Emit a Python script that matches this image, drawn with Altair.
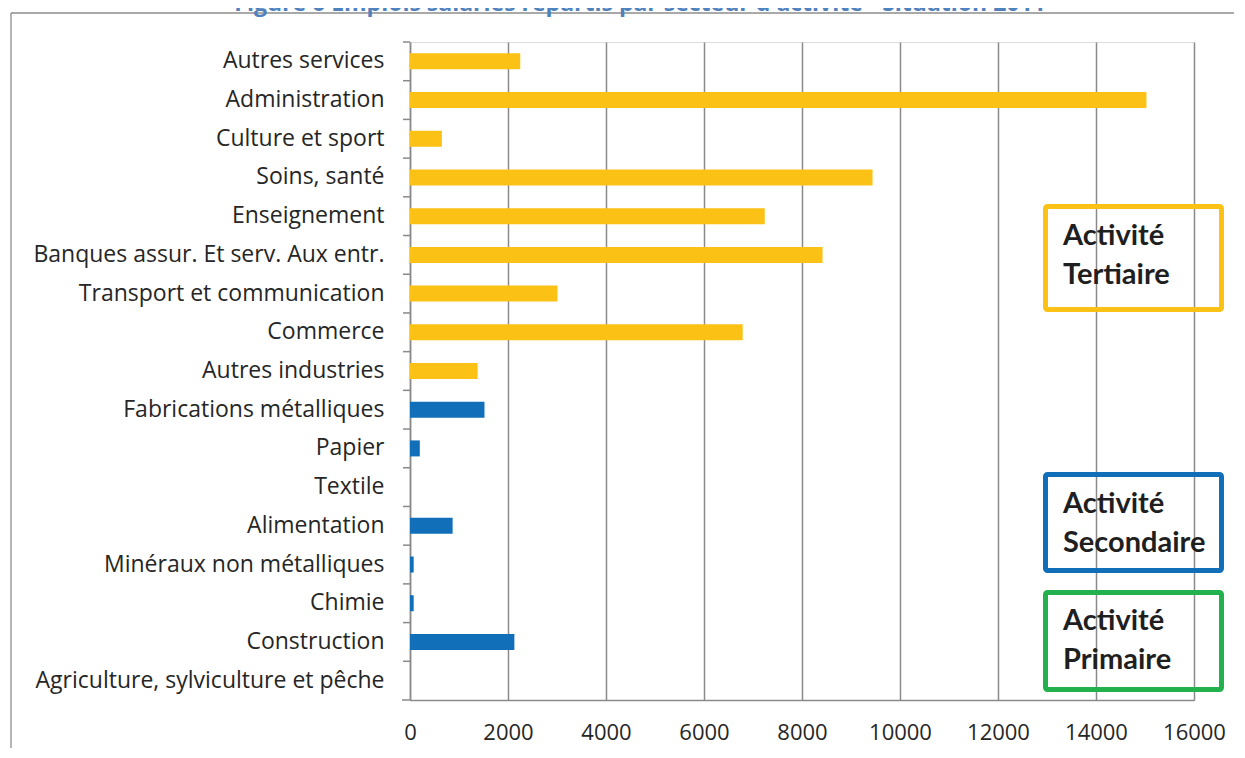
import altair as alt
import pandas as pd

categories = [
    "Autres services", "Administration", "Culture et sport", "Soins, santé",
    "Enseignement", "Banques assur. Et serv. Aux entr.", "Transport et communication",
    "Commerce", "Autres industries", "Fabrications métalliques", "Papier", "Textile",
    "Alimentation", "Minéraux non métalliques", "Chimie", "Construction",
    "Agriculture, sylviculture et pêche",
]
values = [2250, 15030, 650, 9440, 7240, 8420, 3010, 6790, 1380, 1520, 200, 0,
          870, 75, 75, 2130, 0]
# colour group of each bar as drawn in the source ("Autres industries" is yellow)
bar_group = ["Tertiaire"] * 9 + ["Secondaire"] * 7 + ["Primaire"]
x_ticks = [0, 2000, 4000, 6000, 8000, 10000, 12000, 14000, 16000]
title_text = "Figure 6 Emplois salariés répartis par secteur d'activité - Situation 2011"

YELLOW = "#FBC115"
BLUE = "#106FB8"
GREEN = "#22B14C"
GRID = "#8A8A8A"
FONT = "Open Sans"

df = pd.DataFrame({"cat": categories, "val": values, "grp": bar_group})
one = pd.DataFrame({"a": [0]})

W, H = 784, 658

y_scale = alt.Scale(paddingInner=0, paddingOuter=0)
y_axis = alt.Axis(
    ticks=False, tickSize=0, domainColor=GRID, domainWidth=1.5, labelPadding=26,
    labelFontSize=23, labelFont=FONT, labelColor="#262626", grid=False, labelLimit=500,
)
y_enc = alt.Y("cat:N", sort=categories, title=None, scale=y_scale, axis=y_axis)
x_enc = alt.X(
    "val:Q", title=None,
    scale=alt.Scale(domain=[0, 16000], nice=False),
    axis=alt.Axis(
        values=x_ticks, grid=True, gridColor=GRID, gridWidth=1.5, ticks=False,
        tickSize=0, domainColor=GRID, domainWidth=1.5, labelPadding=22,
        labelFontSize=22, labelFont=FONT, labelColor="#262626", format="d",
        labelFlush=False,
    ),
)

bars = alt.Chart(df).mark_bar(size=16).encode(
    x=x_enc, y=y_enc,
    color=alt.Color("grp:N", scale=alt.Scale(
        domain=["Tertiaire", "Secondaire", "Primaire"],
        range=[YELLOW, BLUE, GREEN]), legend=None),
)

# category boundary ticks on the left axis
ticks = alt.Chart(df).mark_rule(color=GRID, strokeWidth=1.5).encode(
    y=alt.Y("cat:N", sort=categories, title=None, scale=y_scale, axis=y_axis,
            bandPosition=0),
    x=alt.value(-7), x2=alt.value(0),
)
axis_ext = alt.Chart(one).mark_rule(color=GRID, strokeWidth=1.5).encode(
    x=alt.value(-8), x2=alt.value(0), y=alt.value(H))

frame_left = alt.Chart(one).mark_rule(color="#8C8C8C", strokeWidth=1.3).encode(
    x=alt.value(-399), y=alt.value(-29), y2=alt.value(720))
frame_top = alt.Chart(one).mark_rule(color="#8C8C8C", strokeWidth=1.3).encode(
    x=alt.value(-399), x2=alt.value(830), y=alt.value(-29))

title = alt.Chart(one).mark_text(
    text=title_text, font="Open Sans", fontSize=23, fontWeight="bold",
    color="#4F81BD", align="center", baseline="alphabetic",
).encode(x=alt.value(230), y=alt.value(-31))


def box(y1, y2, color, lines, ty):
    r = alt.Chart(one).mark_rect(
        fill=None, fillOpacity=0, stroke=color, strokeWidth=5, cornerRadius=2,
    ).encode(x=alt.value(635.5), x2=alt.value(811.5), y=alt.value(y1), y2=alt.value(y2))
    t = alt.Chart(one).mark_text(
        text=lines, font="Lato", fontSize=29, fontWeight="bold", color="#1F1F1F",
        align="left", baseline="alphabetic", lineHeight=39,
    ).encode(x=alt.value(653), y=alt.value(ty))
    return r + t


chart = alt.layer(
    frame_left, frame_top, title, bars, ticks, axis_ext,
    box(164.5, 267.5, YELLOW, ["Activité", "Tertiaire"], 203),
    box(432.5, 528.5, BLUE, ["Activité", "Secondaire"], 471),
    box(550.5, 647.5, GREEN, ["Activité", "Primaire"], 588),
).properties(
    width=W, height=H,
    autosize=alt.AutoSizeParams(type="none"),
    padding={"left": 402, "top": 34, "right": 40, "bottom": 48},
).configure_view(stroke=None).configure(background="white")

chart.save("out.html", embed_options={"renderer": "svg", "actions": False})
